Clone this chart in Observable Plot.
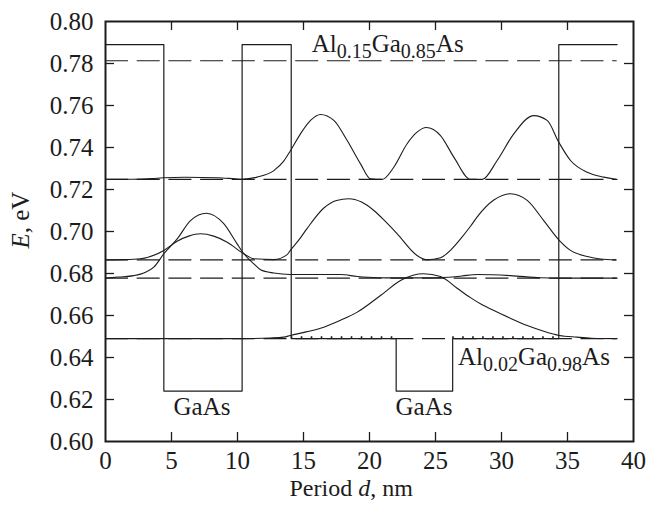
<!DOCTYPE html>
<html><head><meta charset="utf-8">
<script src="https://cdn.jsdelivr.net/npm/d3@7"></script>
<script src="https://cdn.jsdelivr.net/npm/@observablehq/plot@0.6"></script>
<style>body{margin:0;background:#fff;}</style>
</head><body><div id="chart"></div>
<script>
// ---- data ----
const xTicks = [0, 5, 10, 15, 20, 25, 30, 35, 40];
const yTicks = [0.60, 0.62, 0.64, 0.66, 0.68, 0.70, 0.72, 0.74, 0.76, 0.78, 0.80];

// conduction-band potential profile (solid)
const potX = [0, 4.42, 4.42, 10.35, 10.35, 14.07, 14.07, 22.02, 22.02, 26.3, 26.3, 34.34, 34.34, 38.76];
const potE = [0.789, 0.789, 0.624, 0.624, 0.789, 0.789, 0.649, 0.649, 0.624, 0.624, 0.649, 0.649, 0.789, 0.789];

// energy levels (dashed)
const levels = [0.7813, 0.7248, 0.6865, 0.6778, 0.649];
const levelStart = 0, levelEnd = 38.76;

// wavefunctions drawn on their levels
const aX = [0, 2, 3.5, 4.4, 6, 8.5, 9.8, 10.35, 11.49, 12.75, 13.5, 14.02, 14.77, 15.53, 16.29, 17.3, 18.31, 19.32, 20.08, 20.96, 21.84, 22.85, 23.6, 24.3, 25.38, 26.39, 27.65, 28.54, 29.67, 30.93, 32.45, 33.46, 34.34, 35.23, 36.49, 37.75, 38.76];
const aE = [0.7248, 0.7249, 0.7252, 0.7256, 0.7258, 0.7256, 0.7251, 0.7249, 0.7259, 0.729, 0.7335, 0.7386, 0.7465, 0.7529, 0.7557, 0.7529, 0.7433, 0.7322, 0.7251, 0.7248, 0.7306, 0.7418, 0.7473, 0.7495, 0.7457, 0.7354, 0.7248, 0.7248, 0.7338, 0.7465, 0.7552, 0.7529, 0.7425, 0.7338, 0.7282, 0.7259, 0.7248];

const bX = [0, 1.5, 2.65, 4.42, 5.43, 6.3, 7.2, 8.2, 9.22, 10.48, 11.24, 12.75, 13.76, 14.0, 14.77, 15.28, 16.54, 17.5, 18.43, 19.4, 20.33, 21.2, 22.1, 23.6, 24.37, 25.38, 26.2, 26.9, 27.65, 28.16, 29.42, 30.68, 31.95, 33.2, 34.39, 35.23, 36.5, 37.5, 38.64];
const bE = [0.6865, 0.6866, 0.6870, 0.6910, 0.6954, 0.6978, 0.6989, 0.6978, 0.6949, 0.6894, 0.6870, 0.6866, 0.6890, 0.6910, 0.6970, 0.7015, 0.7112, 0.7148, 0.7156, 0.7140, 0.7100, 0.7048, 0.6989, 0.6886, 0.6865, 0.6875, 0.6915, 0.6965, 0.7025, 0.7070, 0.7150, 0.7180, 0.7148, 0.7052, 0.6957, 0.6910, 0.6881, 0.6869, 0.6865];

const cX = [0, 1, 2.15, 3, 3.66, 4.42, 5.43, 6.44, 7.65, 8.96, 9.97, 10.48, 11.24, 11.74, 12.75, 14.0, 16, 17.8, 19.07, 20.6, 22, 24, 26, 27, 28.16, 30.68, 32.95, 34.34, 36, 38.76];
const cE = [0.6778, 0.6783, 0.679, 0.6805, 0.683, 0.6894, 0.6965, 0.7052, 0.7087, 0.7037, 0.6941, 0.6894, 0.6846, 0.6818, 0.6802, 0.6795, 0.6795, 0.6795, 0.6786, 0.678, 0.6779, 0.6779, 0.6782, 0.6788, 0.6795, 0.679, 0.678, 0.6778, 0.6778, 0.6778];

const dX = [0, 4.4, 10.3, 12.5, 13.5, 14.0, 15.2, 16.54, 17.8, 19.07, 20.83, 22.35, 23.3, 24.1, 25.38, 26.64, 27.65, 28.5, 29.42, 30.7, 31.95, 33.2, 34.39, 35.7, 36.8, 38.76];
const dE = [0.649, 0.649, 0.649, 0.6493, 0.6497, 0.6505, 0.6522, 0.6544, 0.6577, 0.6616, 0.6695, 0.6767, 0.6792, 0.6799, 0.6786, 0.673, 0.6685, 0.6652, 0.6624, 0.6586, 0.6552, 0.6525, 0.6505, 0.6497, 0.6492, 0.649];

// dotted segments on the lower barrier
const dotSegX1 = [14.07, 26.3];
const dotSegX2 = [22.02, 34.34];
const dotE = 0.6497;

// ---- layout ----
const W = 647, H = 507, mL = 105, mR = 14, mT = 21, mB = 66;
const pw = W - mL - mR, ph = H - mT - mB;
const ink = "#1c1c1c";
const font = "'Liberation Serif', 'DejaVu Serif', serif";
const rows = (xs, es) => xs.map((x, i) => ({x, e: es[i]}));
const tickLen = 9;

const lineOpts = {x: "x", y: "e", stroke: ink, strokeWidth: 1.1, curve: "monotone-x"};

const plot = Plot.plot({
  width: W, height: H,
  marginLeft: mL, marginRight: mR, marginTop: mT, marginBottom: mB,
  style: {fontFamily: font, fontSize: "25px", background: "#fff", color: ink},
  x: {domain: [0, 40]},
  y: {domain: [0.60, 0.80]},
  marks: [
    Plot.axisX({ticks: xTicks, tickSize: 0, tickPadding: 10, label: null}),
    Plot.axisY({ticks: yTicks, tickSize: 0, tickPadding: 12, label: null, tickFormat: d3.format(".2f")}),
    // inward ticks on all four sides
    Plot.ruleX(xTicks.slice(1, -1), {x: d => d, insetTop: ph - tickLen, stroke: ink, strokeWidth: 1.3}),
    Plot.ruleX(xTicks.slice(1, -1), {x: d => d, insetBottom: ph - tickLen, stroke: ink, strokeWidth: 1.3}),
    Plot.ruleY(yTicks.slice(1, -1), {y: d => d, insetRight: pw - tickLen, stroke: ink, strokeWidth: 1.3}),
    Plot.ruleY(yTicks.slice(1, -1), {y: d => d, insetLeft: pw - tickLen, stroke: ink, strokeWidth: 1.3}),
    // energy levels
    Plot.ruleY(levels, {y: d => d, x1: () => levelStart, x2: () => levelEnd, stroke: ink, strokeWidth: 1.1, strokeDasharray: "23,8.7"}),
    Plot.ruleY(dotSegX1.map((x1, i) => ({x1, x2: dotSegX2[i]})), {y: () => dotE, x1: "x1", x2: "x2", stroke: ink, strokeWidth: 1.6, strokeDasharray: "1.6,8.4"}),
    // potential profile
    Plot.line(rows(potX, potE), {x: "x", y: "e", stroke: ink, strokeWidth: 1.2}),
    // wavefunctions
    Plot.line(rows(aX, aE), lineOpts),
    Plot.line(rows(bX, bE), lineOpts),
    Plot.line(rows(cX, cE), lineOpts),
    Plot.line(rows(dX, dE), lineOpts),
    Plot.frame({stroke: ink, strokeWidth: 2})
  ]
});

document.getElementById("chart").appendChild(plot);

// ---- text labels with subscripts / italics ----
const sx = plot.scale("x"), sy = plot.scale("y");
const svg = d3.select(plot);
function label(parts, xv, yv, anchor) {
  const t = svg.append("text")
    .attr("x", sx.apply(xv)).attr("y", sy.apply(yv))
    .attr("text-anchor", anchor).attr("fill", ink)
    .style("font-family", font).style("font-size", "25px");
  let shifted = false;
  for (const [s, kind] of parts) {
    const ts = t.append("tspan").text(s);
    if (kind === "sub") {
      ts.style("font-size", "20px");
      if (!shifted) { ts.attr("dy", 6); shifted = true; }
    } else {
      if (shifted) { ts.attr("dy", -6); shifted = false; }
      if (kind === "it") ts.style("font-style", "italic");
    }
  }
  return t;
}
label([["Al"], ["0.15", "sub"], ["Ga"], ["0.85", "sub"], ["As"]], 15.66, 0.7852, "start");
label([["Al"], ["0.02", "sub"], ["Ga"], ["0.98", "sub"], ["As"]], 26.74, 0.6362, "start");
label([["GaAs"]], 7.35, 0.6124, "middle");
label([["GaAs"]], 24.17, 0.6124, "middle");

// axis titles
svg.append("text").attr("x", sx.apply(18.65)).attr("y", H - 11)
  .attr("text-anchor", "middle").attr("fill", ink)
  .style("font-family", font).style("font-size", "24px")
  .call(t => { t.append("tspan").text("Period "); t.append("tspan").text("d").style("font-style", "italic"); t.append("tspan").text(", nm"); });
svg.append("text").attr("transform", `translate(29, ${sy.apply(0.7052)}) rotate(-90)`)
  .attr("text-anchor", "middle").attr("fill", ink)
  .style("font-family", font).style("font-size", "25px")
  .call(t => { t.append("tspan").text("E").style("font-style", "italic"); t.append("tspan").text(", eV"); });
</script>
</body></html>
